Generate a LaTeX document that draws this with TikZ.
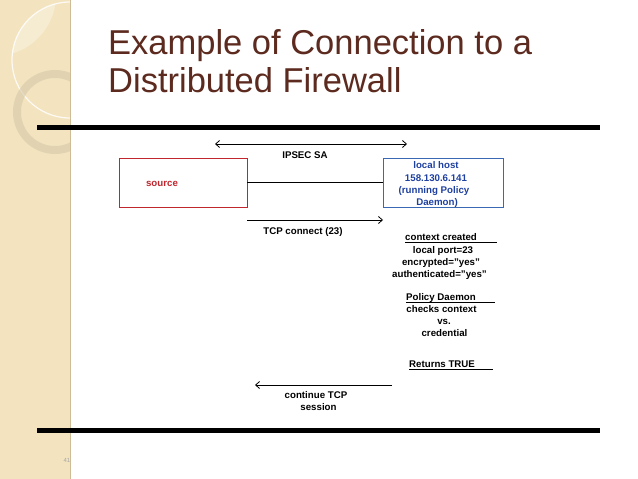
\documentclass[tikz,border=0pt]{standalone}
\usepackage{fontspec}
\setmainfont{Liberation Sans}
\usetikzlibrary{arrows.meta}
\definecolor{stripcol}{RGB}{243,228,191}
\definecolor{stripedge}{RGB}{205,188,150}
\definecolor{ringcol}{RGB}{214,200,168}
\definecolor{titlecol}{RGB}{92,42,30}
\definecolor{srcred}{RGB}{192,38,45}
\definecolor{hostblue}{RGB}{30,64,160}
\definecolor{hostedge}{RGB}{58,104,178}

\begin{document}
\begin{tikzpicture}[x=1pt,y=-1pt,
    title/.style={font=\fontsize{34.5}{40}\selectfont, text=titlecol, inner sep=0pt},
    lbl/.style={font=\bfseries\fontsize{9.7}{11}\selectfont, inner sep=0pt},
    hostlbl/.style={lbl, text=hostblue},
    barb/.tip={Straight Barb[length=4pt,width=7pt]},
    flow/.style={-barb, line width=0.8pt},
    rule/.style={line width=5pt},
    uline/.style={line width=0.7pt}]
  \useasboundingbox (0,0) rectangle (638,479);
  \fill[white] (0,0) rectangle (638,479);

  % side strip with rings
  \fill[stripcol] (0,0) rectangle (70,479);
  \begin{scope}
    \clip (0,0) rectangle (70,479);
    \begin{scope}
      \clip (70,60) circle (58pt);
      \fill[white, opacity=0.3] (-5,-5) circle (61pt);
    \end{scope}
    \draw[white, line width=1.2pt, opacity=0.85] (70,60) circle (58pt);
    \draw[ringcol, line width=8pt, opacity=0.6] (55,112) circle (38pt);
  \end{scope}
  \draw[stripedge, line width=1pt] (70,0) -- (70,479);
  \node[font=\fontsize{6}{7}\selectfont, text=black!35] (pgno) at (67,460) {41};

  % title
  \node[title, anchor=base west] (ttl1) at (108,54) {Example of Connection to a};
  \node[title, anchor=base west] (ttl2) at (108,92) {Distributed Firewall};

  \draw[rule] (37,127) -- (600,127);
  \draw[rule] (37,430) -- (600,430);

  % the two hosts
  \node[draw=srcred, line width=0.8pt, minimum width=128pt, minimum height=49pt, inner sep=0pt] (src) at (183,182.5) {};
  \node[lbl, text=srcred, anchor=base] (srclbl) at (162,186.5) {source};
  \node[draw=hostedge, line width=0.8pt, minimum width=120pt, minimum height=49pt, inner sep=0pt] (host) at (443,182.5) {};
  \node[hostlbl, anchor=base] (host1) at (436,168.5) {local host};
  \node[hostlbl, anchor=base] (host2) at (436,181) {158.130.6.141};
  \node[hostlbl, anchor=base] (host3) at (434,193.5) {(running Policy};
  \node[hostlbl, anchor=base] (host4) at (437,205.5) {Daemon)};
  \draw[line width=0.8pt] (src.east) -- (host.west);

  % IPSEC SA
  \coordinate (ipl) at (215,144);
  \coordinate (ipr) at (407,144);
  \draw[flow, barb-barb] (ipl) -- (ipr);
  \node[lbl, anchor=base] (ipsec) at (305,158.5) {IPSEC SA};

  % TCP connect
  \coordinate (tcpa) at (247,220);
  \coordinate (tcpb) at (383,220);
  \draw[flow] (tcpa) -- (tcpb);
  \node[lbl, anchor=base] (tcplbl) at (303,234.5) {TCP connect (23)};

  % context
  \node[lbl, anchor=base west] (ctx) at (405,240.5) {context created};
  \draw[uline] ([yshift=-1.5pt]ctx.base west) -- ++(92,0);
  \node[lbl, anchor=base] (ctx1) at (443,253.5) {local port=23};
  \node[lbl, anchor=base] (ctx2) at (441,265.5) {encrypted="yes"};
  \node[lbl, anchor=base] (ctx3) at (439.5,277) {authenticated="yes"};

  % policy daemon check
  \node[lbl, anchor=base west] (pd) at (406,300.5) {Policy Daemon};
  \draw[uline] ([yshift=-1.5pt]pd.base west) -- ++(89,0);
  \node[lbl, anchor=base] (pd1) at (441.5,312) {checks context};
  \node[lbl, anchor=base] (pd2) at (444,324) {vs.};
  \node[lbl, anchor=base] (pd3) at (444.5,336) {credential};

  \node[lbl, anchor=base west] (ret) at (409,367.5) {Returns TRUE};
  \draw[uline] ([yshift=-1.5pt]ret.base west) -- ++(84,0);

  % continue
  \coordinate (reta) at (392,385);
  \coordinate (retb) at (255,385);
  \draw[flow] (reta) -- (retb);
  \node[lbl, anchor=base] (cont1) at (316,398) {continue TCP};
  \node[lbl, anchor=base] (cont2) at (318.5,410.5) {session};
\end{tikzpicture}
\end{document}
